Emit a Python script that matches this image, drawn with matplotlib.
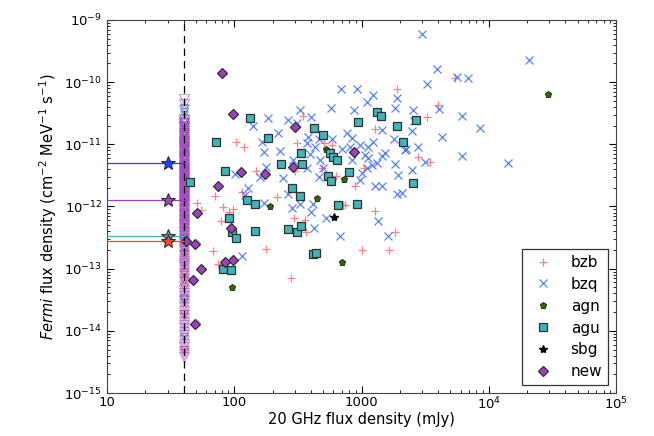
import matplotlib
matplotlib.use("Agg")
import matplotlib.pyplot as plt
from matplotlib.ticker import FixedLocator, FixedFormatter, LogLocator, NullFormatter

# 20 GHz flux density (mJy) and Fermi flux density for each class
bzb_s = [350, 103, 119, 312, 148, 490, 630, 70, 115, 215, 51, 81, 300, 505, 715, 91, 98, 79, 295, 360,
         365, 68, 178, 74, 280, 55, 1900, 4000, 3300, 1270, 2800, 3450, 1050, 890, 5400, 745, 1270, 1830,
         1010, 1650, 585]
bzb_f = [2.9e-11, 1.1e-11, 9.0e-12, 1.05e-11, 3.7e-12, 4.2e-12, 3.1e-12, 1.5e-12, 1.7e-12, 1.4e-12,
         1.15e-12, 9.8e-13, 3.7e-12, 1.05e-11, 1.05e-12, 8.1e-13, 9.0e-13, 5.9e-13, 6.5e-13, 6.0e-13,
         3.9e-13, 1.9e-13, 2.1e-13, 1.2e-13, 7.0e-14, 8.7e-13, 7.7e-11, 4.3e-11, 2.8e-11, 1.75e-11,
         6.2e-12, 5.2e-12, 4.2e-12, 2.1e-12, 1.16e-10, 1.04e-12, 8.5e-13, 3.9e-13, 2.0e-13, 2.0e-13, 9.7e-12]

bzq_s = [690, 575, 330, 185, 140, 265, 400, 220, 310, 380, 165, 170, 228, 460, 585, 770, 430, 395, 700, 470,
         290, 177, 159, 242, 460, 101, 128, 121, 265, 330, 415, 284, 170, 400, 525, 423, 675, 115, 3900, 5600,
         6850, 3270, 920, 1230, 1100, 1900, 870, 1830, 2530, 4050, 6150, 2580, 8500, 1450, 2490, 840, 1800,
         4280, 2770, 1230, 1120, 2230, 1060, 1450, 6150, 3150, 840, 1830, 1210, 1320, 1100, 2490, 1930, 1010,
         970, 1270, 1450, 1900, 2070, 14100, 1350, 1610, 2980, 20600, 2190, 372, 500, 970, 1530, 1120, 372, 810]
bzq_f = [7.9e-11, 3.8e-11, 3.6e-11, 2.7e-11, 2.0e-11, 2.5e-11, 2.8e-11, 1.5e-11, 2.2e-11, 1.3e-11,
         1.08e-11, 7.5e-12, 7.8e-12, 1.2e-11, 1.2e-11, 1.5e-11, 9.0e-12, 7.0e-12, 8.3e-12, 5.6e-12,
         5.6e-12, 4.3e-12, 3.0e-12, 2.9e-12, 3.0e-12, 3.3e-12, 2.0e-12, 1.55e-12, 1.6e-12, 1.1e-12,
         1.1e-12, 9.4e-13, 1.15e-12, 8.1e-13, 6.5e-13, 4.5e-13, 3.4e-13, 1.6e-13, 1.6e-10, 1.2e-10,
         1.16e-10, 9.3e-11, 7.7e-11, 6.2e-11, 4.8e-11, 5.6e-11, 3.6e-11, 3.8e-11, 3.6e-11, 3.7e-11,
         2.9e-11, 2.4e-11, 1.8e-11, 1.7e-11, 1.65e-11, 1.26e-11, 1.2e-11, 1.3e-11, 9.0e-12, 1.08e-11,
         9.0e-12, 8.3e-12, 6.7e-12, 6.5e-12, 6.5e-12, 5.2e-12, 5.6e-12, 4.8e-12, 4.6e-12, 5.0e-12,
         4.2e-12, 3.8e-12, 3.2e-12, 3.4e-12, 2.7e-12, 2.1e-12, 2.1e-12, 1.6e-12, 1.65e-12, 5.0e-12,
         5.8e-13, 3.4e-13, 6.0e-10, 2.27e-10, 8.0e-12, 1.05e-11, 4.2e-12, 9.7e-12, 7.2e-12, 6.0e-12,
         4.2e-12, 9.0e-12]

agn_s = [530, 730, 445, 190, 96, 700, 29000]
agn_f = [8.3e-12, 2.8e-12, 1.35e-12, 1.0e-12, 5.0e-14, 1.26e-13, 6.4e-11]

agu_s = [133, 72, 185, 335, 85, 235, 340, 425, 500, 565, 600, 640, 545, 575, 285, 330, 126, 145, 650, 45,
         91, 96, 103, 145, 265, 310, 335, 81, 94, 415, 440, 1320, 1420, 935, 1900, 2700, 2100, 800, 2550, 920]
agu_f = [2.7e-11, 1.1e-11, 1.25e-11, 7.2e-12, 3.7e-12, 4.8e-12, 4.8e-12, 1.8e-11, 1.4e-11, 7.2e-12,
         6.2e-12, 5.6e-12, 3.1e-12, 2.6e-12, 2.0e-12, 1.5e-12, 1.26e-12, 1.1e-12, 1.05e-12, 2.5e-12,
         6.5e-13, 3.9e-13, 3.1e-13, 4.0e-13, 4.3e-13, 3.9e-13, 4.8e-13, 9.8e-14, 9.4e-14, 1.7e-13,
         1.8e-13, 3.3e-11, 2.9e-11, 2.3e-11, 2.0e-11, 2.5e-11, 1.1e-11, 3.6e-12, 2.4e-12, 1.1e-12]

sbg_s = [610]
sbg_f = [6.7e-13]

new_s = [80, 98, 300, 112, 175, 290, 74, 51, 94, 49, 42, 85, 98, 55, 47, 49, 870]
new_f = [1.4e-10, 3.1e-11, 1.9e-11, 3.6e-12, 3.3e-12, 4.3e-12, 2.1e-12, 7.9e-13, 4.5e-13, 2.5e-13,
         2.8e-13, 1.3e-13, 1.4e-13, 1.0e-13, 6.6e-14, 1.3e-14, 7.5e-12]

# upper limits, all at the 40 mJy cut
ul_s = 40
ul_new = [5.3e-11, 4.4e-11, 3.6e-11, 2.6e-11, 2.45e-11, 2.3e-11, 2.2e-11, 2.1e-11, 2.0e-11, 1.95e-11,
          1.88e-11, 1.8e-11, 1.7e-11, 1.62e-11, 1.55e-11, 1.5e-11, 1.43e-11, 1.37e-11, 1.3e-11, 1.24e-11,
          1.18e-11, 1.14e-11, 1.1e-11, 1.05e-11, 1.02e-11, 9.7e-12, 9.4e-12, 9.0e-12, 8.8e-12, 8.4e-12,
          8.1e-12, 7.7e-12, 7.4e-12, 7.1e-12, 6.8e-12, 6.5e-12, 6.3e-12, 6.1e-12, 5.8e-12, 5.6e-12,
          5.4e-12, 5.2e-12, 4.9e-12, 4.7e-12, 4.5e-12, 4.3e-12, 4.2e-12, 4.0e-12, 3.9e-12, 3.7e-12,
          3.6e-12, 3.45e-12, 3.35e-12, 3.2e-12, 3.1e-12, 2.95e-12, 2.9e-12, 2.8e-12, 2.7e-12, 2.6e-12,
          2.5e-12, 2.4e-12, 2.35e-12, 2.25e-12, 2.15e-12, 2.05e-12, 2.0e-12, 1.9e-12, 1.85e-12, 1.78e-12,
          1.72e-12, 1.65e-12, 1.6e-12, 1.55e-12, 1.5e-12, 1.44e-12, 1.38e-12, 1.32e-12, 1.28e-12, 1.22e-12,
          1.18e-12, 1.12e-12, 1.08e-12, 1.04e-12, 1.0e-12, 9.5e-13, 9.1e-13, 8.7e-13, 8.4e-13, 8.0e-13,
          7.6e-13, 7.3e-13, 7.0e-13, 6.6e-13, 6.3e-13, 6.0e-13, 5.8e-13, 5.5e-13, 5.2e-13, 5.0e-13,
          4.8e-13, 4.5e-13, 4.3e-13, 4.1e-13, 3.9e-13, 3.7e-13, 3.5e-13, 3.3e-13, 3.1e-13, 2.95e-13,
          2.8e-13, 2.65e-13, 2.5e-13, 2.35e-13, 2.2e-13, 2.05e-13, 1.9e-13, 1.75e-13, 1.6e-13, 1.45e-13,
          1.35e-13, 1.25e-13, 1.15e-13, 1.05e-13, 9.5e-14, 8.5e-14, 7.5e-14, 6.8e-14, 6.0e-14, 5.3e-14,
          4.6e-14, 4.1e-14, 3.7e-14, 3.3e-14, 3.0e-14, 2.7e-14, 2.4e-14, 2.1e-14, 1.8e-14, 1.6e-14,
          1.4e-14, 1.25e-14, 1.1e-14, 9.5e-15, 8.5e-15, 7.2e-15, 6.2e-15, 5.4e-15, 4.8e-15, 4.2e-15, 3.8e-15]
ul_agu = [3.8e-11, 3.3e-11, 3.0e-11, 1.6e-11, 4.0e-12, 3.2e-14, 7.9e-15]
ul_bzb = [3.0e-13, 1.7e-13, 8.5e-14, 6.6e-14, 5.0e-14, 1.9e-14, 4.9e-15]

# stacked fluxes of the sources below the cut
stack_s = 30
stack_f = {'bzq': 5.0e-12, 'new': 1.25e-12, 'agu': 3.4e-13, 'bzb': 2.8e-13}

c_bzb = '#ff5a5a'
c_bzq = '#3a6cff'
c_agn = '#2e6b00'
c_agu = '#40b4b8'
c_new = '#a040c0'
edge = '#303030'

fig = plt.figure(figsize=(6.54, 4.36), dpi=100)
ax = fig.add_axes([107 / 654, 1 - 393 / 436, 509 / 654, 373 / 436])
ax.set_xscale('log')
ax.set_yscale('log')

# upper limits band
ax.plot([ul_s] * len(ul_bzb), ul_bzb, 'v', ms=6, mfc='none', mec=c_bzb, mew=0.8, alpha=0.8, zorder=2)
ax.plot([ul_s] * len(ul_agu), ul_agu, 'v', ms=6, mfc='none', mec=c_agu, mew=0.8, alpha=0.8, zorder=2)
ax.plot([ul_s] * len(ul_new), ul_new, 'v', ms=6.5, mfc='none', mec=c_new, mew=0.9, alpha=0.5, zorder=2)

# detections
ax.plot(bzb_s, bzb_f, '+', ms=6, mew=0.9, color=c_bzb, alpha=0.75, ls='none', label='bzb', zorder=3)
ax.plot(bzq_s, bzq_f, 'x', ms=5.5, mew=0.9, color=c_bzq, alpha=0.85, ls='none', label='bzq', zorder=3)
ax.plot(agn_s, agn_f, 'p', ms=5, mfc=c_agn, mec='#102800', mew=0.6, ls='none', label='agn', zorder=4)
ax.plot(agu_s, agu_f, 's', ms=5.5, mfc=c_agu, mec=edge, mew=0.9, ls='none', label='agu', zorder=4)
ax.plot(sbg_s, sbg_f, '*', ms=6, color='k', ls='none', label='sbg', zorder=4)
ax.plot(new_s, new_f, 'D', ms=5.5, mfc=c_new, mec=edge, mew=0.9, ls='none', label='new', zorder=5)

ax.axvline(ul_s, color='k', ls=(0, (6, 4)), lw=0.9, zorder=6)

# stacks: horizontal segment up to the cut, star below it
stack_col = {'bzq': '#1a44ff', 'new': c_new, 'agu': c_agu, 'bzb': '#ff4a2a'}
for k, f in stack_f.items():
    ax.plot([10, ul_s], [f, f], color=stack_col[k], lw=0.9, zorder=6)
    ax.plot(stack_s, f, '*', ms=10, mfc=stack_col[k], mec=edge, mew=0.8, zorder=7)

ax.set_xlim(10, 1e5)
ax.set_ylim(1e-15, 1e-9)

ax.xaxis.set_major_locator(FixedLocator([10, 100, 1000, 1e4, 1e5]))
ax.xaxis.set_major_formatter(FixedFormatter(['10', '100', '1000', '$10^4$', '$10^5$']))
ax.xaxis.set_minor_locator(LogLocator(base=10, subs=range(2, 10), numticks=20))
ax.xaxis.set_minor_formatter(NullFormatter())
ax.yaxis.set_minor_locator(LogLocator(base=10, subs=range(2, 10), numticks=20))
ax.yaxis.set_minor_formatter(NullFormatter())
ax.tick_params(which='both', direction='in', top=True, right=True, labelsize=9.5)
ax.tick_params(which='major', length=5)
ax.tick_params(which='minor', length=2.5)
ax.tick_params(axis='x', pad=2)
for sp in ax.spines.values():
    sp.set_color('#444444')

ax.set_xlabel('20 GHz flux density (mJy)', fontsize=10.5, labelpad=0)
ax.set_ylabel(r'$\it{Fermi}$ flux density (cm$^{-2}$ MeV$^{-1}$ s$^{-1}$)', fontsize=10.5)

leg = ax.legend(loc='lower right', numpoints=1, fontsize=11, fancybox=False, framealpha=1,
                edgecolor='#333333', borderaxespad=0.5, handlelength=2, labelspacing=0.45)
leg.get_frame().set_linewidth(0.9)

fig.savefig('out.png', dpi=100)
